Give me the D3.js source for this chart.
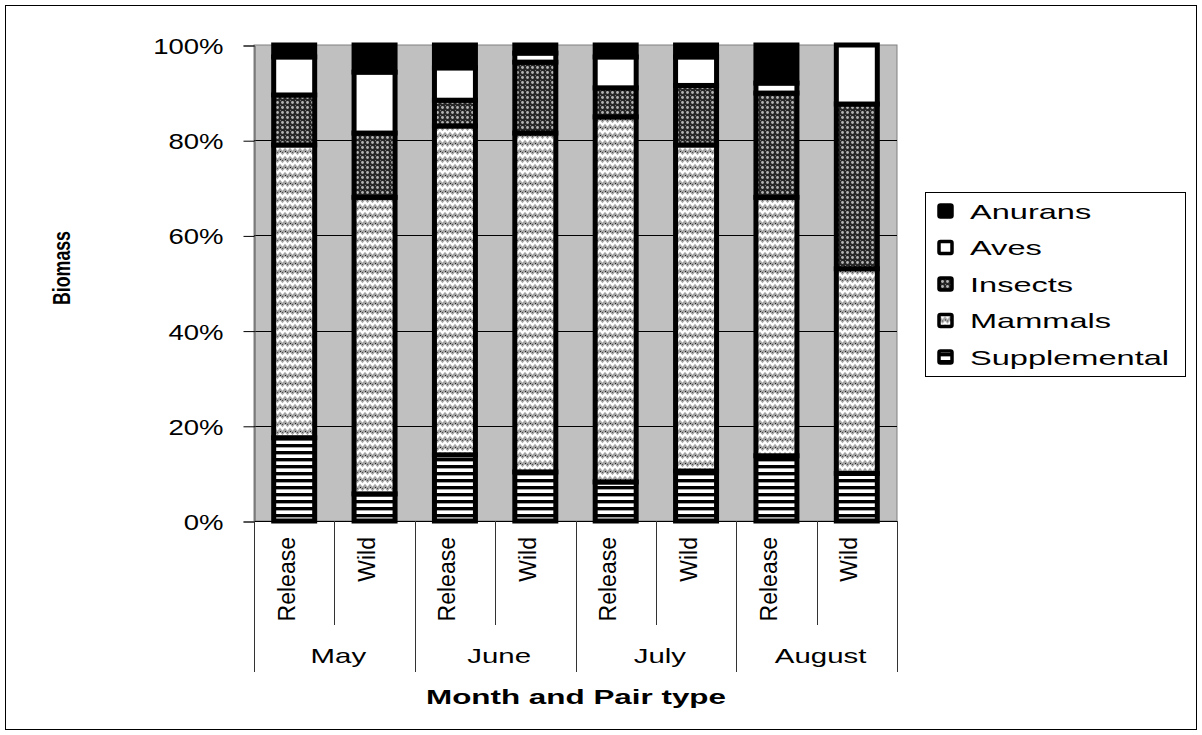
<!DOCTYPE html>
<html>
<head>
<meta charset="utf-8">
<script src="https://cdn.jsdelivr.net/npm/d3@7"></script>
<style>
  html, body { margin: 0; padding: 0; background: #fff; }
  svg { display: block; }
  text { font-family: "Liberation Sans", Arial, sans-serif; fill: #000; }
</style>
</head>
<body>
<svg id="chart" width="1202" height="735"></svg>
<script>
// Diet composition (share of biomass, %) by month and pair type
const months = ["May", "June", "July", "August"];
const pairTypes = ["Release", "Wild"];
const categories = ["May|Release", "May|Wild", "June|Release", "June|Wild",
                    "July|Release", "July|Wild", "August|Release", "August|Wild"];

const supplemental = [17.5, 5.7, 13.9, 10.3, 8.2, 10.5, 13.7, 10.0];
const mammals      = [61.5, 62.3, 69.1, 71.2, 76.7, 68.5, 54.3, 43.0];
const insects      = [10.5, 13.5, 5.4, 14.9, 6.1, 12.5, 21.9, 34.6];
const aves         = [8.0, 12.8, 6.8, 1.9, 6.5, 6.0, 2.1, 12.4];
const anurans      = [2.5, 5.7, 4.8, 1.7, 2.5, 2.5, 8.0, 0.0];

const seriesNames = ["Supplemental", "Mammals", "Insects", "Aves", "Anurans"];
const seriesValues = [supplemental, mammals, insects, aves, anurans];
const yTicks = [0, 0.2, 0.4, 0.6, 0.8, 1.0];
const yTickLabels = ["0%", "20%", "40%", "60%", "80%", "100%"];

const rows = categories.map((c, i) => {
  const r = { cat: c };
  seriesNames.forEach((s, j) => { r[s] = seriesValues[j][i]; });
  return r;
});

const svg = d3.select("#chart");
const plot = { left: 254, right: 897, top: 45, bottom: 521 };

// stretch a text element horizontally to a target width
function fitWidth(sel, w) {
  sel.attr("textLength", w).attr("lengthAdjust", "spacingAndGlyphs");
}

// ---- fill patterns ----
const defs = svg.append("defs");

// horizontal stripes
const pSupp = defs.append("pattern").attr("id", "pat-supp")
  .attr("patternUnits", "userSpaceOnUse").attr("width", 8).attr("height", 7);
pSupp.append("rect").attr("width", 8).attr("height", 7).attr("fill", "#fff");
pSupp.append("rect").attr("y", 3).attr("width", 8).attr("height", 3).attr("fill", "#000");
pSupp.append("rect").attr("y", 6).attr("width", 8).attr("height", 1).attr("fill", "#a0a0a0");

// herringbone / chevron weave
const pMam = defs.append("pattern").attr("id", "pat-mamm")
  .attr("patternUnits", "userSpaceOnUse").attr("width", 10).attr("height", 8);
pMam.append("rect").attr("width", 10).attr("height", 8).attr("fill", "#a4a4a4");
pMam.append("path").attr("d", "M-2.5,5 L0,2 L2.5,5 L5,2 L7.5,5 L10,2 L12.5,5")
  .attr("fill", "none").attr("stroke", "#fff").attr("stroke-width", 2.4);
pMam.append("rect").attr("x", 0).attr("y", 7).attr("width", 1).attr("height", 1).attr("fill", "#222");
pMam.append("rect").attr("x", 5).attr("y", 7).attr("width", 1).attr("height", 1).attr("fill", "#222");
pMam.append("rect").attr("x", 2).attr("y", 0).attr("width", 1).attr("height", 1).attr("fill", "#555");
pMam.append("rect").attr("x", 7).attr("y", 0).attr("width", 1).attr("height", 1).attr("fill", "#555");

// dark ground with light dots
const pIns = defs.append("pattern").attr("id", "pat-ins")
  .attr("patternUnits", "userSpaceOnUse").attr("width", 5).attr("height", 5);
pIns.append("rect").attr("width", 5).attr("height", 5).attr("fill", "#262626");
pIns.append("circle").attr("cx", 2.5).attr("cy", 2.5).attr("r", 1.4).attr("fill", "#b4b4b4");
pIns.append("rect").attr("x", 0).attr("y", 0).attr("width", 1).attr("height", 1).attr("fill", "#7a7a7a");

const fills = {
  Supplemental: "url(#pat-supp)",
  Mammals: "url(#pat-mamm)",
  Insects: "url(#pat-ins)",
  Aves: "#ffffff",
  Anurans: "#000000"
};

// ---- outer frame ----
svg.append("rect").attr("x", 5.5).attr("y", 5.5).attr("width", 1191).attr("height", 724)
  .attr("fill", "#fff").attr("stroke", "#000").attr("stroke-width", 1);

// ---- scales ----
const x = d3.scaleBand().domain(categories).range([plot.left, plot.right])
  .paddingInner(0.49).paddingOuter(0.245);
const y = d3.scaleLinear().domain([0, 1]).range([plot.bottom, plot.top]);

// plot area
svg.append("rect").attr("x", plot.left).attr("y", plot.top)
  .attr("width", plot.right - plot.left).attr("height", plot.bottom - plot.top)
  .attr("fill", "#c0c0c0").attr("stroke", "#808080").attr("stroke-width", 1);

// gridlines
svg.append("g").selectAll("line").data(yTicks.slice(1, -1)).join("line")
  .attr("x1", plot.left).attr("x2", plot.right)
  .attr("y1", d => Math.round(y(d)) + 0.5).attr("y2", d => Math.round(y(d)) + 0.5)
  .attr("stroke", "#000").attr("stroke-width", 1);

// y axis
const yAxis = d3.axisLeft(y).tickValues(yTicks).tickSize(11).tickPadding(20)
  .tickFormat((d, i) => yTickLabels[i]);
const gy = svg.append("g").attr("transform", `translate(${plot.left + 0.5},0.5)`).call(yAxis);
gy.select(".domain").attr("stroke", "#555");
gy.selectAll(".tick line").attr("stroke", "#000");
gy.selectAll(".tick text").attr("font-size", 22).attr("dy", "0.36em")
  .style("font-family", '"Liberation Sans", Arial, sans-serif').attr("fill", "#000")
  .each(function () { const t = d3.select(this); fitWidth(t, this.getComputedTextLength() * 1.25); });

// ---- stacked bars ----
const stack = d3.stack().keys(seriesNames).offset(d3.stackOffsetExpand);
const stacked = stack(rows);
const bw = x.bandwidth();
svg.append("g").selectAll("g").data(stacked).join("g")
  .attr("fill", d => fills[d.key])
  .selectAll("rect").data(d => d).join("rect")
  .attr("x", d => x(d.data.cat))
  .attr("y", d => y(d[1]))
  .attr("width", bw)
  .attr("height", d => y(d[0]) - y(d[1]))
  .attr("stroke", "#000").attr("stroke-width", 5);

// x axis line
svg.append("line").attr("x1", plot.left).attr("x2", plot.right)
  .attr("y1", plot.bottom + 0.5).attr("y2", plot.bottom + 0.5).attr("stroke", "#000");

// ---- two-level category axis ----
const step = (plot.right - plot.left) / categories.length;
const divs = d3.range(categories.length + 1);
svg.append("g").selectAll("line").data(divs).join("line")
  .attr("x1", k => Math.round(plot.left + k * step) + 0.5)
  .attr("x2", k => Math.round(plot.left + k * step) + 0.5)
  .attr("y1", plot.bottom)
  .attr("y2", k => (k % 2 === 0 ? 672 : 625))
  .attr("stroke", "#333").attr("stroke-width", 1);

svg.append("g").selectAll("text").data(categories).join("text")
  .attr("transform", c => `translate(${x(c) + bw / 2 + 0.5},537) rotate(-90)`)
  .attr("text-anchor", "end")
  .attr("font-size", 23)
  .text(c => c.split("|")[1]);

const monthStep = (plot.right - plot.left) / months.length;
svg.append("g").selectAll("text").data(months).join("text")
  .attr("x", (m, i) => plot.left + (i + 0.5) * monthStep + 4)
  .attr("y", 663)
  .attr("text-anchor", "middle")
  .attr("font-size", 21)
  .text(m => m)
  .each(function () { fitWidth(d3.select(this), this.getComputedTextLength() * 1.4); });

// axis titles
svg.append("text").attr("x", 576).attr("y", 704).attr("text-anchor", "middle")
  .attr("font-size", 20).attr("font-weight", "bold").text("Month and Pair type")
  .each(function () { fitWidth(d3.select(this), 300); });

svg.append("text").attr("transform", "translate(70,268) rotate(-90)")
  .attr("text-anchor", "middle").attr("font-size", 24).attr("font-weight", "bold")
  .text("Biomass")
  .each(function () { fitWidth(d3.select(this), 74); });

// ---- legend ----
const legend = svg.append("g");
legend.append("rect").attr("x", 925.5).attr("y", 192.5).attr("width", 260).attr("height", 184)
  .attr("fill", "#fff").attr("stroke", "#000").attr("stroke-width", 1);
const legendOrder = seriesNames.slice().reverse();
const li = legend.selectAll("g.item").data(legendOrder).join("g")
  .attr("class", "item")
  .attr("transform", (d, i) => `translate(0,${211 + i * 36.5})`);
li.append("rect").attr("x", 939).attr("y", -6).attr("width", 13).attr("height", 12)
  .attr("rx", 1.5).attr("fill", d => fills[d]).attr("stroke", "#000").attr("stroke-width", 3.5);
li.append("text").attr("x", 970).attr("y", 7.5).attr("font-size", 21).text(d => d)
  .each(function () { fitWidth(d3.select(this), this.getComputedTextLength() * 1.55); });
</script>
</body>
</html>
